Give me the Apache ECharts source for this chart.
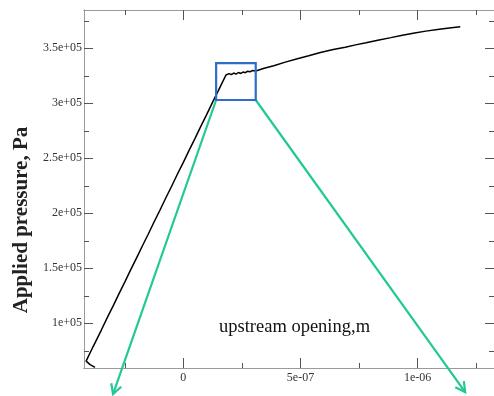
<!DOCTYPE html>
<html>
<head>
<meta charset="utf-8">
<script src="https://cdn.jsdelivr.net/npm/echarts@6/dist/echarts.min.js"></script>
<style>
  html, body { margin: 0; padding: 0; background: #fff; }
  #chart { width: 494px; height: 396px; }
</style>
</head>
<body>
<div id="chart"></div>
<script>
// upstream opening (m) against applied pressure (Pa)
const openingM = [
  -3.77e-7, -3.98e-7, -4.15e-7, -3.85e-7, -3.5e-7, -3.2e-7, -3.0e-7, -2.75e-7,
  -2.5e-7, -2.25e-7, -2.0e-7, -1.75e-7, -1.5e-7, -1.25e-7, -1.0e-7, -0.75e-7,
  -0.5e-7, -0.25e-7, 0, 0.25e-7, 0.5e-7, 0.75e-7, 1.0e-7, 1.25e-7,
  1.5e-7, 1.65e-7, 1.82e-7, 1.95e-7, 2.05e-7, 2.15e-7, 2.25e-7, 2.35e-7,
  2.45e-7, 2.55e-7, 2.65e-7, 2.75e-7, 2.85e-7, 2.95e-7, 3.09e-7, 3.45e-7,
  3.86e-7, 4.35e-7, 4.83e-7, 5.35e-7, 5.85e-7, 6.4e-7, 6.91e-7, 7.35e-7,
  7.8e-7, 8.3e-7, 8.86e-7, 9.35e-7, 9.87e-7, 10.35e-7, 10.85e-7, 11.35e-7,
  11.82e-7
];
const pressurePa = [
  60000, 62500, 65700, 78900, 93900, 107200, 115600, 126800,
  137500, 148600, 159300, 170300, 181000, 192100, 202800, 213900,
  224600, 235700, 246300, 257500, 268100, 279200, 289900, 301000,
  311700, 318400, 325700, 327000, 326000, 327500, 326500, 328000,
  327100, 328400, 327800, 329200, 328600, 329900, 329400, 331900,
  334100, 337400, 340300, 343200, 346200, 348800, 351000, 353100,
  355000, 357400, 359700, 361900, 363900, 365600, 367000, 368400,
  369600
];

const xLabelValues = [0, 5e-7, 1e-6];
const xMinorValues = [-2.5e-7, 2.5e-7, 7.5e-7, 1.25e-6];
const yLabelValues = [100000, 150000, 200000, 250000, 300000, 350000];
const yMinorValues = [75000, 125000, 175000, 225000, 275000, 325000, 375000];

// zoom box drawn round the knee, and where the two green arrows point
const zoomBoxX = [1.4e-7, 3.09e-7];
const zoomBoxY = [303000, 336600];
const arrowTipX = [-3.0e-7, 1.203e-6];
const arrowTipY = [35700, 37500];

const xMin = -4.24e-7, xMax = 1.326e-6;
const yMin = 59400, yMax = 384800;

const serif = '"Liberation Serif", "DejaVu Serif", serif';
const frameColor = '#9a9a9a';
const tickColor = '#555';

function sci(v) {
  if (v === 0) return '0';
  return v.toExponential().replace(/e([+-])(\d)$/, 'e$10$2');
}

function xAxisDef(position, values, len, withLabels) {
  return {
    type: 'value', gridIndex: 0, position: position, min: xMin, max: xMax,
    axisLine: { show: true, onZero: false, lineStyle: { color: frameColor, width: 1 } },
    axisTick: { show: true, inside: true, length: len, customValues: values,
      lineStyle: { color: tickColor, width: 1 } },
    axisLabel: { show: withLabels, customValues: values, margin: 4, formatter: sci,
      fontFamily: serif, fontSize: 12, color: '#333' },
    splitLine: { show: false }
  };
}

function yAxisDef(position, values, len, withLabels) {
  return {
    type: 'value', gridIndex: 0, position: position, min: yMin, max: yMax,
    axisLine: { show: true, onZero: false, lineStyle: { color: frameColor, width: 1 } },
    axisTick: { show: true, inside: true, length: len, customValues: values,
      lineStyle: { color: tickColor, width: 1 } },
    axisLabel: { show: withLabels, customValues: values, margin: 2, formatter: sci,
      fontFamily: serif, fontSize: 12, color: '#333' },
    splitLine: { show: false }
  };
}

const chart = echarts.init(document.getElementById('chart'));

const xMain = xAxisDef('bottom', xLabelValues, 10, true);
xMain.name = 'upstream opening,m';
xMain.nameLocation = 'middle';
xMain.nameGap = -50;
xMain.nameTextStyle = { fontFamily: serif, fontSize: 18.5, color: '#111', padding: [0, 0, 0, 11] };

const yMain = yAxisDef('left', yLabelValues, 9, true);
yMain.name = 'Applied pressure, Pa';
yMain.nameLocation = 'middle';
yMain.nameGap = 44;
yMain.nameTextStyle = { fontFamily: serif, fontSize: 21, fontWeight: 'bold', color: '#222',
  padding: [0, 62, 0, 0] };

chart.setOption({
  animation: false,
  backgroundColor: '#fff',
  grid: { left: 84, top: 10, right: -3, bottom: 28 },
  xAxis: [
    xMain,
    xAxisDef('bottom', xMinorValues, 5, false),
    xAxisDef('top', xLabelValues, 10, false),
    xAxisDef('top', xMinorValues, 5, false)
  ],
  yAxis: [
    yMain,
    yAxisDef('left', yMinorValues, 5, false),
    yAxisDef('right', yLabelValues, 9, false),
    yAxisDef('right', yMinorValues, 5, false)
  ],
  series: [{
    type: 'line',
    xAxisIndex: 0,
    yAxisIndex: 0,
    data: openingM.map((x, i) => [x, pressurePa[i]]),
    showSymbol: false,
    lineStyle: { color: '#000', width: 1.5 },
    itemStyle: { color: '#000' }
  }]
});

// annotation: blue box round the knee and two green arrows out of it
const px = (x, y) => chart.convertToPixel({ seriesIndex: 0 }, [x, y]);
const boxA = px(zoomBoxX[0], zoomBoxY[1]);
const boxB = px(zoomBoxX[1], zoomBoxY[0]);
const green = '#22c896';
const graphics = [{
  type: 'rect',
  shape: { x: boxA[0], y: boxA[1], width: boxB[0] - boxA[0], height: boxB[1] - boxA[1] },
  style: { fill: 'none', stroke: '#2b6fc6', lineWidth: 2.2 },
  z: 10
}];
for (let i = 0; i < 2; i++) {
  const s = px(zoomBoxX[i], zoomBoxY[0]);
  const t = px(arrowTipX[i], arrowTipY[i]);
  const dx = t[0] - s[0], dy = t[1] - s[1];
  const len = Math.hypot(dx, dy);
  const ux = dx / len, uy = dy / len;
  const head = 11, ang = 0.5;
  const a1 = [t[0] - head * (ux * Math.cos(ang) - uy * Math.sin(ang)),
              t[1] - head * (uy * Math.cos(ang) + ux * Math.sin(ang))];
  const a2 = [t[0] - head * (ux * Math.cos(ang) + uy * Math.sin(ang)),
              t[1] - head * (uy * Math.cos(ang) - ux * Math.sin(ang))];
  graphics.push({
    type: 'polyline', shape: { points: [s, t] },
    style: { stroke: green, lineWidth: 2.2, fill: 'none' }, z: 9
  });
  graphics.push({
    type: 'polyline', shape: { points: [a1, t, a2] },
    style: { stroke: green, lineWidth: 2.2, fill: 'none' }, z: 9
  });
}
chart.setOption({ graphic: graphics });
</script>
</body>
</html>
